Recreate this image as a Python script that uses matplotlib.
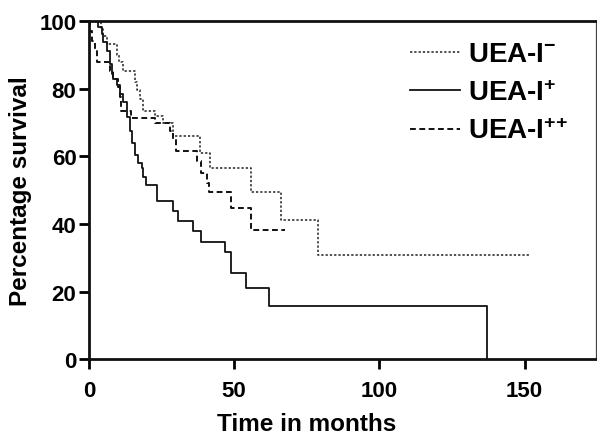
import matplotlib
matplotlib.use("Agg")
import matplotlib.pyplot as plt

plt.rcParams['font.family'] = ['Liberation Sans', 'DejaVu Sans']
plt.rcParams['font.weight'] = 'bold'
plt.rcParams['mathtext.fontset'] = 'custom'
plt.rcParams['mathtext.rm'] = 'Liberation Sans:bold'
plt.rcParams['mathtext.bf'] = 'Liberation Sans:bold'
plt.rcParams['mathtext.it'] = 'Liberation Sans:bold'

# UEA-I- (dotted)
neg_t = [0, 4.0, 4.8, 6.3, 9.5, 10.5, 11.8, 15.8, 16.5, 17.5, 18.7, 22.7, 25.5, 29.0,
         38.1, 41.6, 55.9, 66.0, 78.8, 151.5]
neg_s = [100, 97.6, 95.6, 93.2, 90.0, 87.8, 85.3, 82.0, 79.5, 76.9, 73.5, 72.0, 70.0, 66.1,
         61.1, 56.7, 49.5, 41.2, 30.8, 30.8]

# UEA-I+ (solid)
pos_t = [0, 3.2, 4.4, 4.9, 6.1, 7.2, 7.8, 8.4, 9.5, 10.7, 11.8, 13.0, 14.1, 14.7, 15.8,
         16.9, 18.1, 18.7, 19.8, 23.3, 29.0, 30.5, 35.8, 38.7, 46.7, 48.8, 54.0, 62.0, 137.0]
pos_s = [100, 98.2, 96.3, 93.8, 91.3, 87.4, 84.4, 82.9, 81.0, 78.5, 76.0, 71.6, 67.5, 64.0, 60.5,
         58.0, 56.5, 54.0, 51.5, 46.8, 43.8, 40.9, 37.8, 34.8, 31.7, 25.4, 21.0, 15.6, 0]

# UEA-I++ (dashed)
pp_t = [0, 0.5, 1.0, 2.0, 2.6, 7.2, 8.2, 10.0, 10.6, 11.2, 14.6, 22.7, 27.8, 29.0, 30.1,
        37.3, 38.5, 40.5, 41.2, 49.0, 55.9, 67.4]
pp_s = [100, 97.1, 94.2, 91.4, 87.8, 85.3, 82.8, 80.4, 77.5, 73.5, 71.5, 70.0, 67.5, 64.7, 61.7,
        58.5, 55.0, 52.0, 49.5, 44.6, 38.3, 38.3]

labels = ["UEA-I$^{-}$", "UEA-I$^{+}$", r"UEA-I$^{+\!+}$"]
x_ticks = [0, 50, 100, 150]
y_ticks = [0, 20, 40, 60, 80, 100]

fig = plt.figure(figsize=(5.97, 4.35), dpi=100)
ax = fig.add_axes([0.149, 0.172, 0.849, 0.777])

ax.step(neg_t, neg_s, where='post', color='#222222', lw=1.1, linestyle=(0, (1.5, 1.3)), label=labels[0])
ax.step(pos_t, pos_s, where='post', color='#111111', lw=1.3, linestyle='-', label=labels[1])
ax.step(pp_t, pp_s, where='post', color='#111111', lw=1.4, linestyle=(0, (3.0, 1.8)), label=labels[2])

ax.set_xlim(0, 174.5)
ax.set_ylim(0, 100)
ax.set_xticks(x_ticks)
ax.set_yticks(y_ticks)
ax.tick_params(axis='both', which='major', labelsize=16, width=2.0, length=7, direction='out', pad=2)
ax.tick_params(axis='x', pad=8)
for lab in ax.get_xticklabels() + ax.get_yticklabels():
    lab.set_fontweight('bold')

for side in ['left', 'bottom', 'top']:
    ax.spines[side].set_linewidth(2.0)
    ax.spines[side].set_color('#111111')
ax.spines['right'].set_linewidth(0.9)
ax.spines['right'].set_color('#444444')

ax.set_xlabel("Time in months", fontsize=17.5, fontweight='bold')
ax.set_ylabel("Percentage survival", fontsize=17.5, fontweight='bold')
ax.xaxis.set_label_coords(0.43, -0.155)
ax.yaxis.set_label_coords(-0.112, 0.5)

leg = ax.legend(loc='upper left', bbox_to_anchor=(0.633, 0.94), frameon=False, fontsize=20,
                handlelength=1.8, handletextpad=0.3, labelspacing=0.45, borderaxespad=0.0,
                borderpad=0.0)

fig.savefig("out.png", dpi=100)
